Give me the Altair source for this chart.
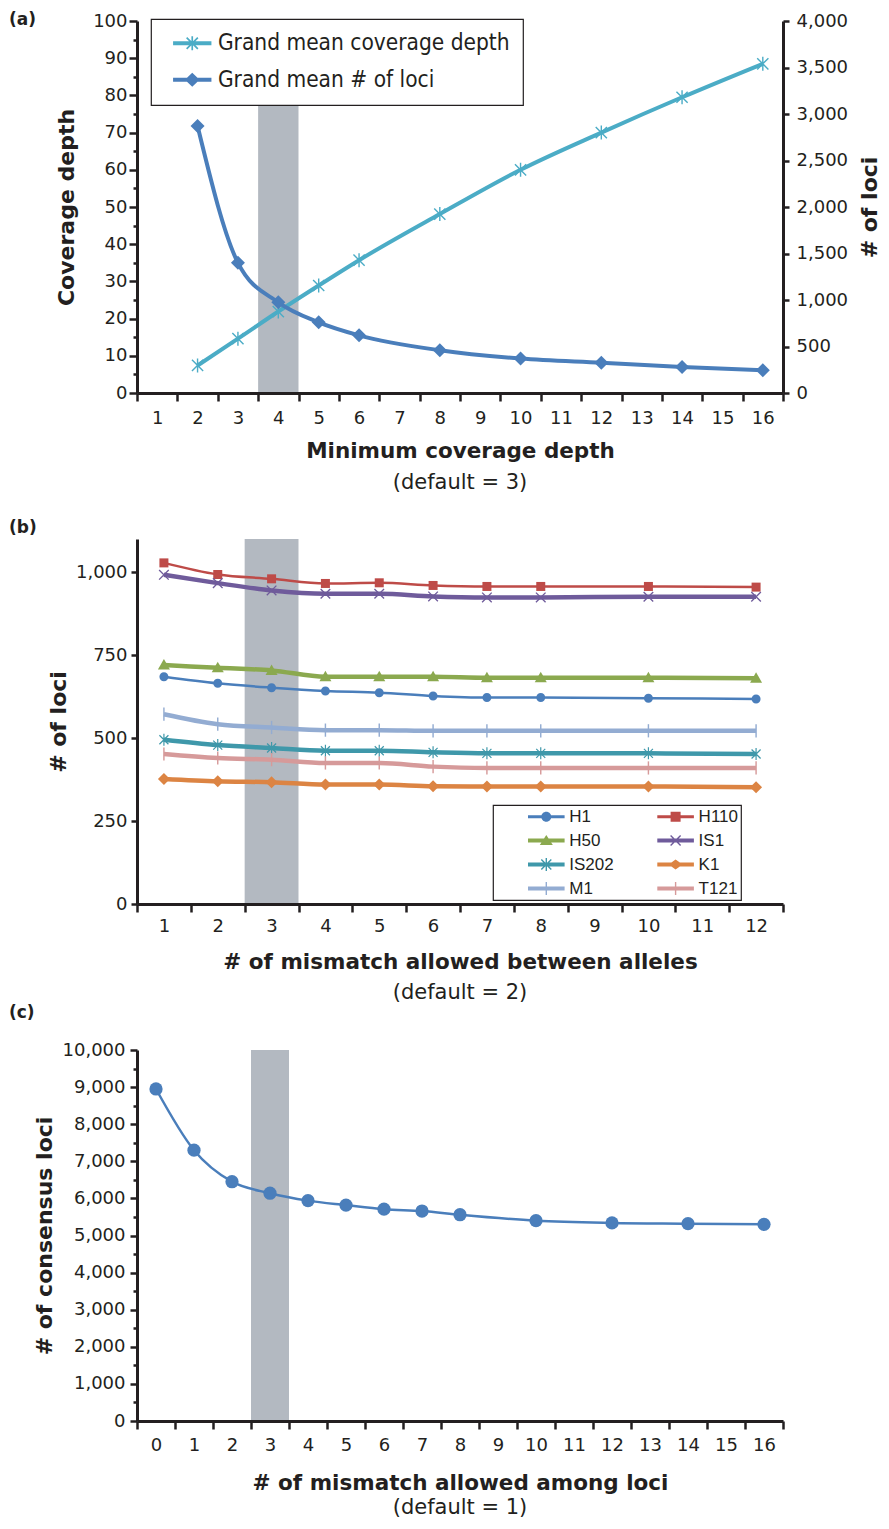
import math
import altair as alt
import pandas as pd

# ---------------- data: panel (a) ----------------
a_categories = ["1", "2", "3", "4", "5", "6", "7", "8", "9", "10", "11", "12", "13", "14", "15", "16"]
a_x = ["2", "3", "4", "5", "6", "8", "10", "12", "14", "16"]
a_coverage = [7.4, 14.6, 21.9, 28.9, 35.7, 48.1, 60.0, 70.0, 79.5, 88.5]
a_loci = [2870, 1400, 975, 760, 620, 460, 370, 325, 280, 245]
a_shade = ["4"]
a_series = ["Grand mean coverage depth", "Grand mean # of loci"]
a_left_ticks = [0, 10, 20, 30, 40, 50, 60, 70, 80, 90, 100]
a_left_minor = [5, 15, 25, 35, 45, 55, 65, 75, 85, 95]
a_right_ticks = [0, 500, 1000, 1500, 2000, 2500, 3000, 3500, 4000]

# ---------------- data: panel (b) ----------------
b_categories = ["1", "2", "3", "4", "5", "6", "7", "8", "9", "10", "11", "12"]
b_x = ["1", "2", "3", "4", "5", "6", "7", "8", "10", "12"]
b_series = ["H1", "H110", "H50", "IS1", "IS202", "K1", "M1", "T121"]
b_H1 = [685, 665, 652, 642, 637, 627, 622, 622, 620, 618]
b_H110 = [1028, 993, 980, 966, 968, 960, 957, 957, 957, 955]
b_H50 = [720, 712, 704, 685, 685, 685, 682, 682, 682, 680]
b_IS1 = [992, 967, 945, 935, 935, 927, 924, 924, 926, 926]
b_IS202 = [495, 479, 470, 462, 462, 457, 454, 454, 454, 452]
b_K1 = [377, 370, 367, 360, 360, 355, 354, 354, 354, 352]
b_M1 = [572, 542, 532, 524, 524, 522, 522, 522, 522, 522]
b_T121 = [452, 440, 435, 425, 425, 414, 410, 410, 410, 410]
b_thin = ["H1", "H110"]
b_shade = ["3"]
b_ticks = [0, 250, 500, 750, 1000]

# ---------------- data: panel (c) ----------------
c_categories = ["0", "1", "2", "3", "4", "5", "6", "7", "8", "9", "10", "11", "12", "13", "14", "15", "16"]
c_x = ["0", "1", "2", "3", "4", "5", "6", "7", "8", "10", "12", "14", "16"]
c_loci = [8950, 7300, 6450, 6140, 5940, 5820, 5710, 5660, 5560, 5400, 5340, 5320, 5300]
c_shade = ["3"]
c_ticks = [0, 1000, 2000, 3000, 4000, 5000, 6000, 7000, 8000, 9000, 10000]
c_minor = [500, 1500, 2500, 3500, 4500, 5500, 6500, 7500, 8500, 9500]

# ---------------- style ----------------
TEXT = "#231f20"
WIDE = "DejaVu Sans"
COND = "DejaVu Sans Condensed"
GRAY = "#b3b9c1"
W = 646
HA, HB, HC = 372, 365, 371
GAP = 146
NUM = ",.0f"

a_colors = ["#4bacc6", "#4a7ebb"]
b_colors = ["#4a7ebb", "#be4b48", "#8ba94f", "#6f5b9b", "#3f98aa", "#dc8443", "#93acd2", "#d69a9a"]
c_color = "#4a7ebb"


def fmt(v):
    s = f"{v:.3f}".rstrip("0").rstrip(".")
    return s if s not in ("", "-0") else "0"


def poly(pts):
    area = sum(x1 * y2 - x2 * y1 for (x1, y1), (x2, y2) in zip(pts, pts[1:] + pts[:1]))
    if area < 0:
        pts = pts[::-1]
    return "M" + "L".join(f"{fmt(x)},{fmt(y)}" for x, y in pts) + "Z"


def rect(x1, y1, x2, y2):
    return poly([(x1, y1), (x2, y1), (x2, y2), (x1, y2)])


def bar(x1, y1, x2, y2, t):
    dx, dy = x2 - x1, y2 - y1
    ln = math.hypot(dx, dy)
    nx, ny = -dy / ln * t, dx / ln * t
    return poly([(x1 + nx, y1 + ny), (x2 + nx, y2 + ny), (x2 - nx, y2 - ny), (x1 - nx, y1 - ny)])


def circle(r):
    return f"M{fmt(-r)},0A{fmt(r)},{fmt(r)},0,1,1,{fmt(r)},0A{fmt(r)},{fmt(r)},0,1,1,{fmt(-r)},0Z"


def diamond(w, h):
    return poly([(0, -h), (w, 0), (0, h), (-w, 0)])


def xcross(r, t):
    return bar(-r, -r, r, r, t) + bar(-r, r, r, -r, t)


def asterisk(v, d, t):
    return bar(0, -v, 0, v, t) + bar(-d, -d, d, d, t) + bar(-d, d, d, -d, t)


def tern(keys, vals):
    expr = "'" + vals[-1] + "'"
    for k, v in reversed(list(zip(keys[:-1], vals[:-1]))):
        expr = f"datum.value === '{k}' ? '{v}' : ({expr})"
    return expr


# marker shapes (panel a, size 196 -> 7 px per unit)
a_pt_shapes = [asterisk(1, 0.8, 0.1), diamond(1, 1)]
a_stub = rect(-2.74, -0.29, 2.74, 0.29)
a_leg_shapes = [a_stub + asterisk(1, 0.8, 0.12), a_stub + diamond(1.05, 1.0)]
a_marks = ["m0", "m1"]

# marker shapes (panel b, size 144 -> 6 px per unit)
b_pt_shapes = [
    circle(0.75),
    rect(-0.75, -0.75, 0.75, 0.75),
    poly([(0, -1), (1, 0.75), (-1, 0.75)]),
    xcross(0.8, 0.11),
    asterisk(1, 0.75, 0.1),
    diamond(1, 1),
    bar(0, -1.1, 0, 1.1, 0.12),
    bar(0, -1.1, 0, 1.1, 0.12),
]
b_marks = ["m0", "m1", "m2", "m3", "m4", "m5", "m6", "m7"]
# legend symbols (panel b, size 100 -> 5 px per unit)
b_leg_markers = [
    circle(1.0),
    rect(-1, -1, 1, 1),
    poly([(0, -1.1), (1.3, 0.9), (-1.3, 0.9)]),
    xcross(1.0, 0.14),
    asterisk(1.3, 1.0, 0.14),
    diamond(1.4, 1.0),
    bar(0, -1.3, 0, 1.3, 0.14),
    bar(0, -1.3, 0, 1.3, 0.14),
]
b_leg_shapes = []
for i, m in enumerate(b_leg_markers):
    t = 0.3 if b_series[i] in b_thin else 0.4
    b_leg_shapes.append(rect(-3.66, -t, 3.66, t) + m)


def ax(**kw):
    base = dict(grid=False, domainColor=TEXT, domainWidth=3, tickColor=TEXT, tickWidth=2.5,
                tickSize=8, labelFont=WIDE, labelFontSize=18, labelColor=TEXT,
                titleFont=WIDE, titleFontSize=22, titleFontWeight="bold", titleColor=TEXT, zindex=1)
    base.update(kw)
    return alt.Axis(**base)


def minor_axis(values):
    return alt.Axis(orient="left", values=values, labels=False, domain=False, tickSize=4,
                    tickWidth=2.5, tickColor=TEXT, grid=False, title=None, zindex=1)


def xenc(domain, axis):
    return alt.X("x:O", scale=alt.Scale(domain=domain, paddingInner=0, paddingOuter=0), axis=axis)


def text_layer(txt, x, y, size, weight="normal", align="left", baseline="middle"):
    return alt.Chart(pd.DataFrame({"t": [txt]})).mark_text(
        font=WIDE, fontSize=size, fontWeight=weight, color=TEXT, align=align, baseline=baseline
    ).encode(x=alt.value(x), y=alt.value(y), text=alt.Text("t:N"))


# ================= panel (a) =================
df_a_cov = pd.DataFrame({"x": a_x, "coverage": a_coverage, "series": a_series[0], "mk": a_marks[0],
                         "idx": range(len(a_x))})
df_a_loci = pd.DataFrame({"x": a_x, "loci": a_loci, "series": a_series[1], "mk": a_marks[1],
                          "idx": range(len(a_x))})
df_a_shade = pd.DataFrame({"x": a_shade})

x_axis_a = ax(title="Minimum coverage depth", tickBand="extent", labelAngle=0, labelPadding=8,
              titleFontSize=21.5, titleBaseline="alphabetic", titleY=64)
xa = xenc(a_categories, x_axis_a)

legend_a = alt.Legend(
    orient="none", legendX=14, legendY=-2, direction="vertical", padding=13,
    strokeColor=TEXT, fillColor="white", labelFont=COND, labelFontSize=22.5, labelColor=TEXT,
    labelLimit=600, symbolSize=196, symbolStrokeWidth=0, symbolOffset=17, labelOffset=14.4,
    rowPadding=13.5,
    symbolType={"expr": tern(a_series, a_leg_shapes)},
    symbolFillColor={"expr": tern(a_series, a_colors)},
)
color_a = alt.Color("series:N", scale=alt.Scale(domain=a_series, range=a_colors), legend=legend_a, title=None)
shape_a = alt.Shape("mk:N", scale=alt.Scale(domain=a_marks, range=a_pt_shapes), legend=None)

shade_a = alt.Chart(df_a_shade).mark_rect(color=GRAY).encode(
    x=xa,
    y=alt.YDatum(0, type="quantitative", scale=alt.Scale(domain=[0, 100]), axis=minor_axis(a_left_minor)),
    y2=alt.Y2Datum(100),
)
y_cov = alt.Y("coverage:Q", scale=alt.Scale(domain=[0, 100]),
              axis=ax(title="Coverage depth", orient="left", values=a_left_ticks, labelPadding=2,
                      titleX=-64, titleBaseline="alphabetic"))
cov_line = alt.Chart(df_a_cov).mark_line(interpolate="monotone", strokeWidth=4).encode(
    x=xa, y=y_cov, color=color_a, order="idx:Q")
cov_pts = alt.Chart(df_a_cov).mark_point(filled=True, size=196, opacity=1, strokeWidth=0).encode(
    x=xa, y=y_cov, color=color_a, shape=shape_a)
y_loci = alt.Y("loci:Q", scale=alt.Scale(domain=[0, 4000]),
               axis=ax(title="# of loci", orient="right", values=a_right_ticks, format=NUM, tickSize=6,
                       labelPadding=7, titleAngle=270, titleX=93, titleBaseline="alphabetic"))
loci_line = alt.Chart(df_a_loci).mark_line(interpolate="monotone", strokeWidth=4).encode(
    x=xa, y=y_loci, color=color_a, order="idx:Q")
loci_pts = alt.Chart(df_a_loci).mark_point(filled=True, size=196, opacity=1, strokeWidth=0).encode(
    x=xa, y=y_loci, color=color_a, shape=shape_a)

chart_a = alt.layer(
    shade_a,
    alt.layer(cov_line, cov_pts),
    alt.layer(loci_line, loci_pts),
    text_layer("(a)", -128, -1, 17, "bold"),
    text_layer("(default = 3)", W / 2, HA + 96, 21, align="center", baseline="alphabetic"),
).resolve_scale(y="independent").properties(width=W, height=HA)

# ================= panel (b) =================
b_values = [b_H1, b_H110, b_H50, b_IS1, b_IS202, b_K1, b_M1, b_T121]
rows = []
for s, mk, vals in zip(b_series, b_marks, b_values):
    for i, (xv, v) in enumerate(zip(b_x, vals)):
        rows.append({"x": xv, "loci": v, "series": s, "mk": mk, "idx": i})
df_b = pd.DataFrame(rows)
df_b_shade = pd.DataFrame({"x": b_shade})

x_axis_b = ax(title="# of mismatch allowed between alleles", tickBand="extent", labelAngle=0, labelPadding=5,
              titleFontSize=21.5, titleBaseline="alphabetic", titleY=64)
xb = xenc(b_categories, x_axis_b)
yscale_b = alt.Scale(domain=[0, 1100])
yaxis_b = ax(title="# of loci", orient="left", values=b_ticks, format=NUM, tickSize=6, labelPadding=4,
             titleX=-72, titleBaseline="alphabetic")

legend_b = alt.Legend(
    orient="none", legendX=356, legendY=266, direction="horizontal", columns=2, padding=3,
    strokeColor=TEXT, fillColor="white", labelFont="Liberation Sans", labelFontSize=17, labelColor=TEXT,
    labelLimit=300, symbolSize=100, symbolStrokeWidth=0, symbolOffset=41.8, labelOffset=14.5,
    rowPadding=6, columnPadding=11.3,
    symbolType={"expr": tern(b_series, b_leg_shapes)},
    symbolFillColor={"expr": tern(b_series, b_colors)},
)
color_b = alt.Color("series:N", scale=alt.Scale(domain=b_series, range=b_colors), legend=legend_b, title=None)
shape_b = alt.Shape("mk:N", scale=alt.Scale(domain=b_marks, range=b_pt_shapes), legend=None)

shade_b = alt.Chart(df_b_shade).mark_rect(color=GRAY).encode(
    x=xb,
    y=alt.YDatum(0, type="quantitative", scale=yscale_b, axis=yaxis_b),
    y2=alt.Y2Datum(1100),
)
yb = alt.Y("loci:Q", scale=yscale_b, axis=yaxis_b)
lines_thin = alt.Chart(df_b).transform_filter(
    alt.FieldOneOfPredicate(field="series", oneOf=b_thin)
).mark_line(interpolate="monotone", strokeWidth=2.5).encode(x=xb, y=yb, color=color_b, order="idx:Q")
lines_thick = alt.Chart(df_b).transform_filter(
    ~alt.FieldOneOfPredicate(field="series", oneOf=b_thin)
).mark_line(interpolate="monotone", strokeWidth=4.5).encode(x=xb, y=yb, color=color_b, order="idx:Q")
pts_b = alt.Chart(df_b).mark_point(filled=True, size=144, opacity=1, strokeWidth=0).encode(
    x=xb, y=yb, color=color_b, shape=shape_b)

chart_b = alt.layer(
    shade_b, lines_thin, lines_thick, pts_b,
    text_layer("(b)", -128, -11, 17, "bold"),
    text_layer("(default = 2)", W / 2, HB + 95, 21, align="center", baseline="alphabetic"),
).properties(width=W, height=HB)

# ================= panel (c) =================
df_c = pd.DataFrame({"x": c_x, "loci": c_loci, "idx": range(len(c_x))})
df_c_shade = pd.DataFrame({"x": c_shade})

x_axis_c = ax(title="# of mismatch allowed among loci", tickBand="extent", labelAngle=0, labelPadding=7,
              titleFontSize=21.5, titleBaseline="alphabetic", titleY=68)
xc = xenc(c_categories, x_axis_c)

shade_c = alt.Chart(df_c_shade).mark_rect(color=GRAY).encode(
    x=xc,
    y=alt.YDatum(0, type="quantitative", scale=alt.Scale(domain=[0, 10000]), axis=minor_axis(c_minor)),
    y2=alt.Y2Datum(10000),
)
yc = alt.Y("loci:Q", scale=alt.Scale(domain=[0, 10000]),
           axis=ax(title="# of consensus loci", orient="left", values=c_ticks, format=NUM, tickSize=7,
                   labelPadding=5, titleX=-86, titleBaseline="alphabetic"))
line_c = alt.Chart(df_c).mark_line(interpolate="monotone", strokeWidth=2.5, color=c_color).encode(
    x=xc, y=yc, order="idx:Q")
pts_c = alt.Chart(df_c).mark_point(filled=True, size=175, opacity=1, strokeWidth=0, shape="circle",
                                   color=c_color).encode(x=xc, y=yc)

chart_c = alt.layer(
    shade_c, alt.layer(line_c, pts_c),
    text_layer("(c)", -128, -37, 17, "bold"),
    text_layer("(default = 1)", W / 2, HC + 93, 21, align="center", baseline="alphabetic"),
).resolve_scale(y="independent").properties(width=W, height=HC)

chart = alt.vconcat(chart_a, chart_b, chart_c, spacing=GAP, bounds="flush").resolve_scale(
    x="independent", y="independent", color="independent", shape="independent"
).properties(
    padding={"left": 0, "top": 2, "right": 0, "bottom": 0},
    background="white",
).configure_view(stroke="transparent").configure_legend(strokeWidth=1.2)

chart.save("out.html", embed_options={"renderer": "svg", "actions": False})
